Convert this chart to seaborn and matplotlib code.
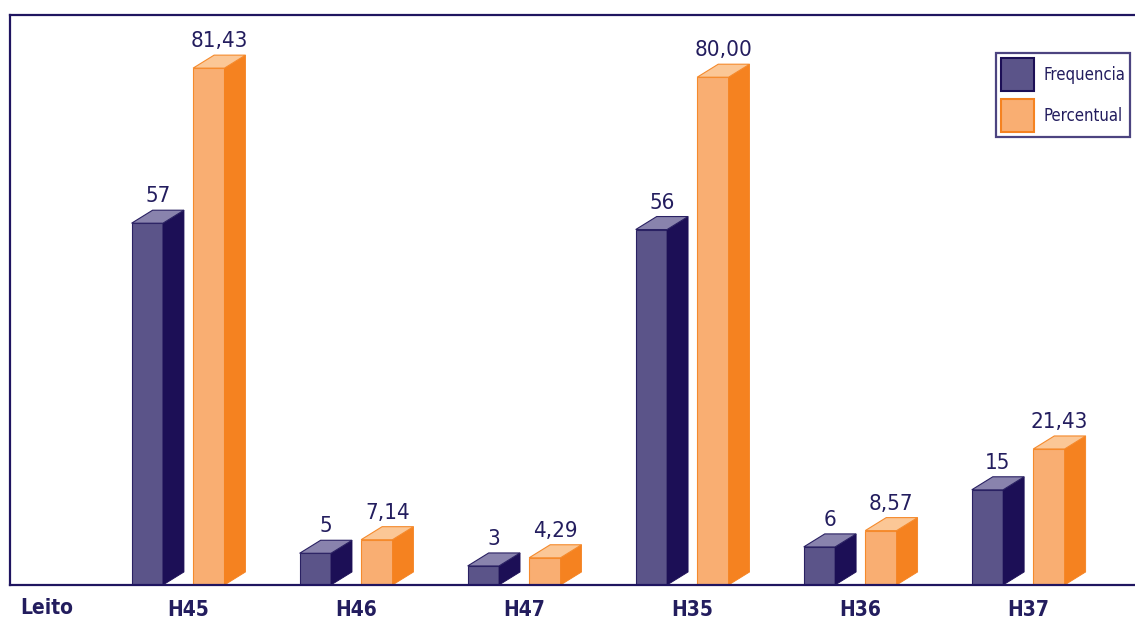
import numpy as np
import pandas as pd
import matplotlib
matplotlib.use("Agg")
import matplotlib.pyplot as plt
from matplotlib.patches import Polygon, Patch
from matplotlib.transforms import ScaledTranslation
import seaborn as sns

# Data
leitos = ["H45", "H46", "H47", "H35", "H36", "H37"]
frequencia = [57, 5, 3, 56, 6, 15]
percentual = [81.43, 7.14, 4.29, 80.00, 8.57, 21.43]
series = ["Frequencia", "Percentual"]

df = pd.DataFrame({
    "Leito": leitos * 2,
    "Serie": [series[0]] * len(leitos) + [series[1]] * len(leitos),
    "Valor": frequencia + percentual,
})

# Face colours for the pseudo-3D boxes: front, side, top
front = {"Frequencia": "#5b5489", "Percentual": "#f9ae72"}
side = {"Frequencia": "#1c0f56", "Percentual": "#f58220"}
top = {"Frequencia": "#8983ad", "Percentual": "#fbc796"}
edge = {"Frequencia": "#2a2163", "Percentual": "#f58a2c"}
navy = "#1f1560"
text_col = "#231d5e"

sns.set_theme(style="white")
FONT = ["DejaVu Sans"]
plt.rcParams["font.family"] = FONT
plt.rcParams["font.stretch"] = "condensed"

DPI = 100
fig = plt.figure(figsize=(11.35, 6.19), dpi=DPI)
ax = fig.add_axes([10 / 1135, 34 / 619, 1125 / 1135, 570 / 619])

sns.barplot(data=df, x="Leito", y="Valor", hue="Serie", order=leitos,
            hue_order=series, palette=front, width=0.732, gap=0.49,
            legend=False, ax=ax, saturation=1)

ax.set_xlim(-1.0, 5.695)
ax.set_ylim(0, 89.8)

# Depth of the boxes in pixels, converted to data units
DX_PX, DY_PX = 21, 13
o = ax.transData.transform((0, 0))
dxy = ax.transData.inverted().transform(o + np.array([DX_PX, DY_PX]))
ddx, ddy = dxy[0], dxy[1]
lift = ax.transData.inverted().transform(o + np.array([0, 4]))[1]

values = {series[0]: frequencia, series[1]: percentual}
fmt = {series[0]: lambda v: f"{v:d}",
       series[1]: lambda v: f"{v:.2f}".replace(".", ",")}

for serie, container in zip(series, ax.containers):
    for bar, val in zip(container, values[serie]):
        x0 = bar.get_x()
        w = bar.get_width()
        h = bar.get_height()
        bar.set_edgecolor(edge[serie])
        bar.set_linewidth(0.8)
        x1 = x0 + w
        ax.add_patch(Polygon([(x1, 0), (x1 + ddx, ddy), (x1 + ddx, h + ddy), (x1, h)],
                             closed=True, facecolor=side[serie],
                             edgecolor=side[serie], linewidth=0.6))
        ax.add_patch(Polygon([(x0, h), (x1, h), (x1 + ddx, h + ddy), (x0 + ddx, h + ddy)],
                             closed=True, facecolor=top[serie],
                             edgecolor=edge[serie], linewidth=0.8))
        ax.text(x0 + (w + ddx) / 2, h + ddy + lift, fmt[serie](val),
                ha="center", va="bottom", fontsize=16, color=text_col,
                stretch="condensed")

# Frame: top, left and baseline
for s in ["top", "left", "bottom"]:
    ax.spines[s].set_visible(True)
    ax.spines[s].set_color(navy)
    ax.spines[s].set_linewidth(1.6)
ax.spines["right"].set_visible(False)

ax.set_yticks([])
ax.set_xlabel("")
ax.set_ylabel("")
ax.tick_params(axis="x", length=0, pad=11)
shift = ScaledTranslation(10.5 / DPI, 0, fig.dpi_scale_trans)
for lab in ax.get_xticklabels():
    lab.set_fontweight("bold")
    lab.set_fontsize(15)
    lab.set_fontstretch("condensed")
    lab.set_color(text_col)
    lab.set_transform(lab.get_transform() + shift)

fig.text(20 / 1135, 1 - 608 / 619, "Leito", ha="left", va="center",
         fontsize=15, fontweight="bold", color=text_col, stretch="condensed")

handles = [Patch(facecolor=front[s], edgecolor=side[s], linewidth=1.5, label=s)
           for s in series]
leg = ax.legend(handles=handles, loc="upper right",
                bbox_to_anchor=((1130 - 10) / 1125, 1 - (53 - 15) / 570),
                fontsize=12, handlelength=1.98, handleheight=2.67,
                labelspacing=0.5, handletextpad=0.55, borderpad=0.3,
                borderaxespad=0, frameon=True, fancybox=False)
leg.get_frame().set_edgecolor(navy)
leg.get_frame().set_linewidth(1.6)
for t in leg.get_texts():
    t.set_color(text_col)

fig.savefig("out.png", dpi=DPI)
